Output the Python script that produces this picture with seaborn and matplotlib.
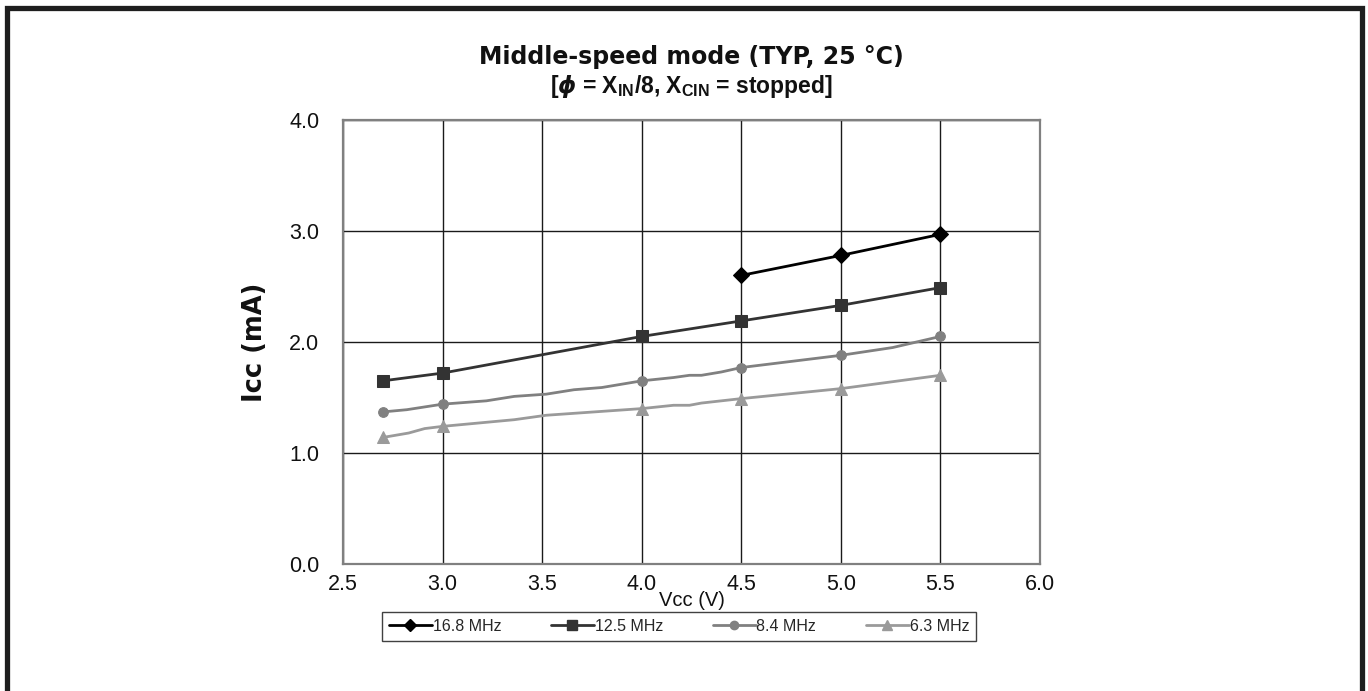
import matplotlib
matplotlib.use("Agg")
import matplotlib.pyplot as plt
import seaborn as sns
import pandas as pd
from matplotlib.lines import Line2D
from matplotlib.patches import Rectangle

# ---------------- data ----------------
marker_vcc = [2.7, 3.0, 4.0, 4.5, 5.0, 5.5]

vcc_168 = [4.5, 5.0, 5.5]
icc_168 = [2.60, 2.78, 2.97]

vcc_125 = [2.7, 3.0, 4.0, 4.5, 5.0, 5.5]
icc_125 = [1.65, 1.72, 2.05, 2.19, 2.33, 2.49]

vcc_84 = [2.7, 2.82, 3.0, 3.22, 3.36, 3.52, 3.66, 3.80, 4.0, 4.16, 4.24, 4.30, 4.40, 4.5, 5.0, 5.26, 5.5]
icc_84 = [1.37, 1.39, 1.44, 1.47, 1.51, 1.53, 1.57, 1.59, 1.65, 1.68, 1.70, 1.70, 1.73, 1.77, 1.88, 1.95, 2.05]

vcc_63 = [2.7, 2.83, 2.91, 3.0, 3.36, 3.52, 4.0, 4.16, 4.24, 4.30, 4.5, 5.0, 5.5]
icc_63 = [1.14, 1.18, 1.22, 1.24, 1.30, 1.34, 1.40, 1.43, 1.43, 1.45, 1.49, 1.58, 1.70]

series_names = ["16.8 MHz", "12.5 MHz", "8.4 MHz", "6.3 MHz"]
x_ticks = [2.5, 3.0, 3.5, 4.0, 4.5, 5.0, 5.5, 6.0]
y_ticks = [0.0, 1.0, 2.0, 3.0, 4.0]

title_line1 = "Middle-speed mode (TYP, 25 °C)"
title_line2 = r"[$\phi$ = X$_{\rm IN}$/8, X$_{\rm CIN}$ = stopped]"
x_label = "Vcc (V)"
y_label = "Icc (mA)"

# ---------------- style ----------------
sns.set_theme(style="white")
plt.rcParams["font.family"] = ["Liberation Sans", "DejaVu Sans"]
plt.rcParams["mathtext.fontset"] = "custom"
plt.rcParams["mathtext.rm"] = "Liberation Sans:bold"
plt.rcParams["mathtext.it"] = "DejaVu Sans:bold:italic"
plt.rcParams["mathtext.bf"] = "Liberation Sans:bold"

W, H = 1368, 691
fig = plt.figure(figsize=(W / 100, H / 100), dpi=100)
fig.patch.set_facecolor("white")
ax = fig.add_axes([343 / W, 1 - 564 / H, (1040 - 343) / W, (564 - 120) / H])

series = [
    (series_names[0], vcc_168, icc_168, "#000000", "D", 8, 6.5),
    (series_names[1], vcc_125, icc_125, "#333333", "s", 8, 6.5),
    (series_names[2], vcc_84, icc_84, "#808080", "o", 7, 6),
    (series_names[3], vcc_63, icc_63, "#9a9a9a", "^", 9, 7.5),
]

handles = []
for name, xs, ys, col, mk, ms, lms in series:
    df = pd.DataFrame({"Vcc": xs, "Icc": ys})
    every = [i for i, v in enumerate(xs) if any(abs(v - m) < 1e-9 for m in marker_vcc)]
    sns.lineplot(data=df, x="Vcc", y="Icc", ax=ax, color=col, lw=2.0,
                 marker=mk, markersize=ms, markeredgecolor=col,
                 markerfacecolor=col, markevery=every, sort=False,
                 estimator=None, zorder=3)
    handles.append(Line2D([0], [0], color=col, lw=2.0, marker=mk,
                          markersize=lms, markerfacecolor=col,
                          markeredgecolor=col))

ax.set_xlim(2.5, 6.0)
ax.set_ylim(0.0, 4.0)
ax.set_xticks(x_ticks)
ax.set_yticks(y_ticks)
ax.set_xticklabels([f"{v:.1f}" for v in x_ticks])
ax.set_yticklabels([f"{v:.1f}" for v in y_ticks])
ax.tick_params(axis="both", length=0, labelsize=15.5, colors="#111111")
ax.tick_params(axis="x", pad=7)
ax.tick_params(axis="y", pad=17)
ax.grid(True, color="#1a1a1a", lw=1.0, zorder=1)
ax.set_axisbelow(True)
for s in ax.spines.values():
    s.set_color("#808080")
    s.set_linewidth(1.6)
    s.set_visible(True)

ax.set_xlabel(x_label, fontsize=14.5, color="#111111")
ax.xaxis.set_label_coords(0.5, -(601 - 564) / 444)
ax.xaxis.label.set_va("center")
ax.set_ylabel(y_label, fontsize=18.5, fontweight="bold", color="#111111",
              family="DejaVu Sans")
ax.yaxis.set_label_coords((255 - 343) / 697, 0.5)
ax.yaxis.label.set_va("center")

cx = (343 + 1040) / 2 / W
fig.text(cx, 1 - 57 / H, title_line1, ha="center", va="center",
         fontsize=17, fontweight="bold", color="#111111", family="DejaVu Sans")
fig.text(cx, 1 - 87 / H, title_line2, ha="center", va="center",
         fontsize=16.5, fontweight="bold", color="#111111",
         family=["Liberation Sans", "DejaVu Sans"])

leg = fig.legend(handles, series_names, loc="center",
                 bbox_to_anchor=(679 / W, 1 - 626.5 / H), ncol=4,
                 frameon=True, fancybox=False, fontsize=11.5,
                 handlelength=2.7, handletextpad=0.05, columnspacing=3.1,
                 borderpad=0.45, borderaxespad=0)
leg.get_frame().set_edgecolor("#111111")
leg.get_frame().set_linewidth(1.0)

# outer frame
fig.patches.append(Rectangle((6.5 / W, -0.05), (1361.5 - 6.5) / W, 1.05 - 8.5 / H,
                             transform=fig.transFigure, fill=False,
                             edgecolor="#1e1e1e", lw=3.8, clip_on=False))

fig.savefig("out.png", dpi=100, facecolor="white")
